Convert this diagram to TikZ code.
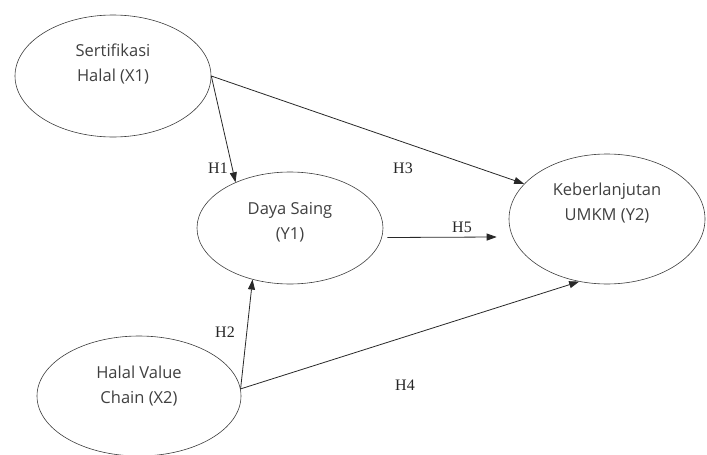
\documentclass[tikz,border=0pt]{standalone}
\usepackage{fontspec}
\setmainfont{Liberation Serif}
\newfontfamily\varfont{Open Sans}
\usepackage{xcolor}
\definecolor{pathgray}{RGB}{40,40,40}
\definecolor{ringgray}{RGB}{60,60,60}
\usetikzlibrary{arrows.meta, shapes.geometric}

\begin{document}
\begin{tikzpicture}[
    x=1pt, y=-1pt,
    var/.style={draw=ringgray, ellipse, line width=0.6pt, inner sep=0pt},
    vartext/.style={font=\varfont\fontsize{16.5}{25}\selectfont, text=black!75,
                    align=center, yshift=12pt},
    hyp/.style={font=\fontsize{16}{18}\selectfont, text=black!85},
    arr/.style={-{Triangle[length=10pt, width=7pt]}, line width=0.8pt, pathgray},
]
\useasboundingbox (0,0) rectangle (707,455);

% ===== latent variables =====
\node[var, minimum width=196pt, minimum height=122pt,
      label={[vartext]center:Sertifikasi\\Halal (X1)}] (X1) at (113,76) {};
\node[var, minimum width=186pt, minimum height=112pt,
      label={[vartext, yshift=-6pt]center:Daya Saing\\(Y1)}] (Y1) at (290,228) {};
\node[var, minimum width=196pt, minimum height=130pt,
      label={[vartext, yshift=4pt]center:Keberlanjutan\\UMKM (Y2)}] (Y2) at (607,219) {};
\node[var, minimum width=204pt, minimum height=120pt,
      label={[vartext, yshift=-2pt]center:Halal Value\\Chain (X2)}] (X2) at (139,396) {};

% ===== paths =====
\draw[arr] (X1.east) -- (Y1.140);
\draw[arr] (X1.east) -- (Y2.157);
\draw[arr] ([xshift=4pt, yshift=-9.5pt]Y1.east) -- ([xshift=-12pt, yshift=-18pt]Y2.west);
\draw[arr] (X2.4) -- (Y1.234);
\draw[arr] (X2.4) -- (Y2.246);

% hypothesis labels
\node[hyp] (h1) at (218,168) {H1};
\node[hyp] (h2) at (225,332) {H2};
\node[hyp] (h3) at (403,168) {H3};
\node[hyp] (h4) at (405,385) {H4};
\node[hyp] (h5) at (462,227) {H5};

\end{tikzpicture}
\end{document}
